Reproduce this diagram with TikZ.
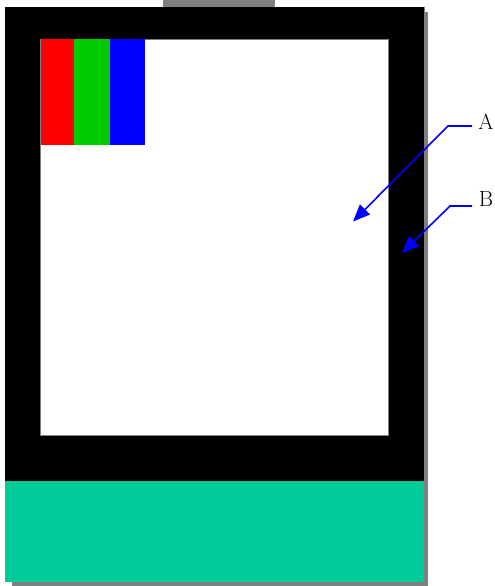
\documentclass[tikz,border=0pt]{standalone}
\usetikzlibrary{arrows.meta}
\definecolor{shadowgray}{HTML}{808080}
\definecolor{tealgreen}{HTML}{00CC99}
\definecolor{barred}{HTML}{FF0000}
\definecolor{bargreen}{HTML}{00CC00}
\definecolor{barblue}{HTML}{0000FF}
\definecolor{arrowblue}{HTML}{0000FF}
\tikzset{
  pointer/.style={draw=arrowblue, line width=1.6bp, -{Triangle[length=17bp,width=14bp]}},
  lbl/.style={font=\fontsize{22}{24}\selectfont, inner sep=0pt, anchor=center},
}
\begin{document}
\begin{tikzpicture}[x=1bp,y=-1bp]
\useasboundingbox (0,0) rectangle (495,586);
% top tab
\fill[shadowgray] (163,0) rectangle (275,8);
% shadow
\fill[shadowgray] (11.5,12.5) rectangle (428,586);
% black frame
\fill[black] (5,7) rectangle (424,481);
\draw[shadowgray, line width=0.5bp] (424,7) -- (424,481);
% bottom green band
\fill[tealgreen] (5,481) rectangle (424,581.5);
% inner white screen
\fill[white, draw=shadowgray, line width=0.6bp] (40.5,39.3) rectangle (388,435);
% colour bars
\fill[barred] (40.5,39.3) rectangle (74,145);
\fill[bargreen] (74,39.3) rectangle (109.5,145);
\fill[barblue] (109.5,39.3) rectangle (145,145);
% labels and pointers
\node[lbl] (A) at (486,122) {A};
\node[lbl] (B) at (486,199) {B};
\coordinate (Aend) at (472,126);
\coordinate (Abend) at (448,126);
\coordinate (Atip) at (353,221.5);
\coordinate (Bend) at (472,206);
\coordinate (Bbend) at (450,206);
\coordinate (Btip) at (402,253);
\draw[pointer] (Aend) -- (Abend) -- (Atip);
\draw[pointer] (Bend) -- (Bbend) -- (Btip);
\end{tikzpicture}
\end{document}
